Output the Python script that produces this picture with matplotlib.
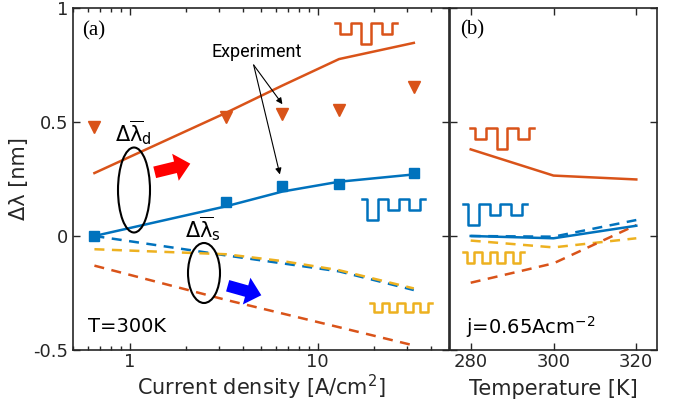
import matplotlib
matplotlib.use('Agg')
import matplotlib.pyplot as plt
from matplotlib.patches import Ellipse, FancyArrowPatch
from matplotlib.lines import Line2D
from matplotlib.ticker import NullFormatter

# (a) current density sweep at T=300K
j = [0.65, 3.25, 6.5, 13, 32.5]
d_exp = [0.48, 0.52, 0.535, 0.553, 0.655]
s_exp = [0.0, 0.15, 0.22, 0.228, 0.276]
d_sim = [0.276, 0.54, 0.66, 0.776, 0.847]
s_sim = [0.0, 0.13, 0.195, 0.238, 0.27]
s_dash_blue = [0.0, -0.085, -0.12, -0.155, -0.237]
s_dash_yel = [-0.058, -0.08, -0.11, -0.15, -0.23]
d_dash_or = [-0.13, -0.28, -0.34, -0.40, -0.48]

# (b) temperature sweep at j=0.65 A/cm2
T = [280, 300, 320]
t_or = [0.38, 0.265, 0.248]
t_blue = [0.0, -0.01, 0.045]
t_dash_blue = [0.0, -0.003, 0.07]
t_dash_yel = [-0.02, -0.05, -0.01]
t_dash_or = [-0.205, -0.12, 0.048]

blue = '#0072BD'
orange = '#D95319'
yellow = '#EDB120'
txt = '#262626'

W, H = 673, 404

def fp(x, y):  # reference pixel -> figure fraction
    return (x / W, 1 - y / H)

plt.rcParams['font.family'] = 'DejaVu Sans'
plt.rcParams['mathtext.fontset'] = 'dejavusans'
plt.rcParams['axes.edgecolor'] = txt
plt.rcParams['xtick.color'] = txt
plt.rcParams['ytick.color'] = txt

fig = plt.figure(figsize=(W / 100, H / 100), dpi=100)
ax1 = fig.add_axes([73 / W, 1 - 350 / H, 376 / W, 342 / H])
ax2 = fig.add_axes([450 / W, 1 - 350 / H, 207 / W, 342 / H])

dash = (4, 3)
lw = 1.8

ax1.plot(j, s_dash_blue, '--', color=blue, lw=lw, dashes=dash)
ax1.plot(j, s_dash_yel, '--', color=yellow, lw=lw, dashes=dash)
ax1.plot(j, d_dash_or, '--', color=orange, lw=lw, dashes=dash)
ax1.plot(j, d_sim, '-', color=orange, lw=lw)
ax1.plot(j, s_sim, '-', color=blue, lw=lw)
ax1.plot(j, d_exp, 'v', color=orange, ms=9, zorder=5)
ax1.plot(j, s_exp, 's', color=blue, ms=6.5, zorder=5)

ax2.plot(T, t_dash_blue, '--', color=blue, lw=lw, dashes=dash)
ax2.plot(T, t_dash_yel, '--', color=yellow, lw=lw, dashes=dash)
ax2.plot(T, t_dash_or, '--', color=orange, lw=lw, dashes=dash)
ax2.plot(T, t_or, '-', color=orange, lw=lw)
ax2.plot(T, t_blue, '-', color=blue, lw=lw)

ax1.set_xscale('log')
ax1.set_xlim(0.5, 50)
ax1.set_ylim(-0.5, 1)
ax1.set_xticks([1, 10])
ax1.set_xticklabels(['1', '10'])
ax1.xaxis.set_minor_formatter(NullFormatter())
ax1.set_yticks([-0.5, 0, 0.5, 1])
ax1.set_yticklabels(['-0.5', '0', '0.5', '1'])
ax1.set_ylabel('Δλ [nm]', fontsize=15, color=txt, labelpad=3)

ax2.set_xlim(275, 325)
ax2.set_ylim(-0.5, 1)
ax2.set_xticks([280, 300, 320])
ax2.set_yticks([-0.5, 0, 0.5, 1])
ax2.set_yticklabels([])

for ax in (ax1, ax2):
    ax.tick_params(which='both', direction='in', top=True, right=True,
                   labelsize=13, width=1)
    ax.tick_params(which='major', length=5)
    ax.tick_params(which='minor', length=3)
    ax.tick_params(axis='x', pad=2.5)
    for sp in ax.spines.values():
        sp.set_linewidth(1.2)

# x labels placed on a common baseline
fig.text(*fp(261, 395), 'Current density [A/cm$^2$]', fontsize=15, color=txt,
         ha='center', va='baseline')
fig.text(*fp(553, 395), 'Temperature [K]', fontsize=15, color=txt,
         ha='center', va='baseline')

# panel texts
fig.text(*fp(82, 31), '(a)', fontsize=15, family='Liberation Serif', va='center')
fig.text(*fp(460, 30), '(b)', fontsize=15, family='Liberation Serif', va='center')
fig.text(*fp(88, 327), 'T=300K', fontsize=14, color='black', va='center')
fig.text(*fp(466, 327), 'j=0.65Acm$^{-2}$', fontsize=14, color='black', va='center')
fig.text(*fp(133, 133), r'$\Delta\overline{\mathrm{\lambda}}_{\mathrm{d}}$', fontsize=15,
         ha='center', va='center')
fig.text(*fp(203, 229), r'$\Delta\overline{\mathrm{\lambda}}_{\mathrm{s}}$', fontsize=15,
         ha='center', va='center')

# experiment labels
ax1.text(4.75, 0.807, 'Experiment', fontsize=13, family='Roboto', ha='center', va='center')
for tgt in [(6.5, 0.578), (6.3, 0.27)]:
    ax1.annotate('', xy=tgt, xytext=(4.57, 0.75),
                 arrowprops=dict(arrowstyle='-|>', color='black', lw=0.8,
                                 mutation_scale=9, shrinkA=0, shrinkB=0))

# ellipses
fig.add_artist(Ellipse(fp(134, 190), 32 / W, 85 / H, fill=False, lw=1.5,
                       ec='black', transform=fig.transFigure))
fig.add_artist(Ellipse(fp(204, 273), 32 / W, 60 / H, fill=False, lw=1.5,
                       ec='black', transform=fig.transFigure))

# fat arrows
style = 'simple,tail_width=8.5,head_width=20,head_length=11'
fig.add_artist(FancyArrowPatch(fp(152, 173), fp(193, 163), arrowstyle=style,
                               mutation_scale=1, color='#FF0000', lw=0,
                               transform=fig.transFigure))
fig.add_artist(FancyArrowPatch(fp(225, 285), fp(264, 296), arrowstyle=style,
                               mutation_scale=1, color='#0000FF', lw=0,
                               transform=fig.transFigure))

# square-wave icons
def wave(levels, x0, x1, ytop, step, color):
    n = len(levels)
    w = (x1 - x0) / (n - 1)
    xs, ys = [], []
    for i, lv in enumerate(levels):
        a = max(x0, x0 + (i - 0.5) * w)
        b = min(x1, x0 + (i + 0.5) * w)
        y = ytop + (max(levels) - lv) * step
        xs += [a, b]
        ys += [y, y]
    pts = [fp(x, y) for x, y in zip(xs, ys)]
    fig.add_artist(Line2D([p[0] for p in pts], [p[1] for p in pts], color=color,
                          lw=1.8, transform=fig.transFigure))

wave_d = [2, 1, 2, 0, 2, 1, 2]
wave_s = [2, 0, 2, 1, 2, 1, 2]
wave_y = [1, 0, 1, 0, 1, 0, 1, 0, 1]

wave(wave_d, 335, 397, 23, 10.5, orange)
wave(wave_s, 362, 425, 199, 10.5, blue)
wave(wave_y, 370, 432, 303, 9, yellow)
wave(wave_d, 470, 534, 128, 10.5, orange)
wave(wave_s, 463, 527, 204, 10.5, blue)
wave(wave_y, 463, 524, 252, 11, yellow)

fig.savefig('out.png', dpi=100)
